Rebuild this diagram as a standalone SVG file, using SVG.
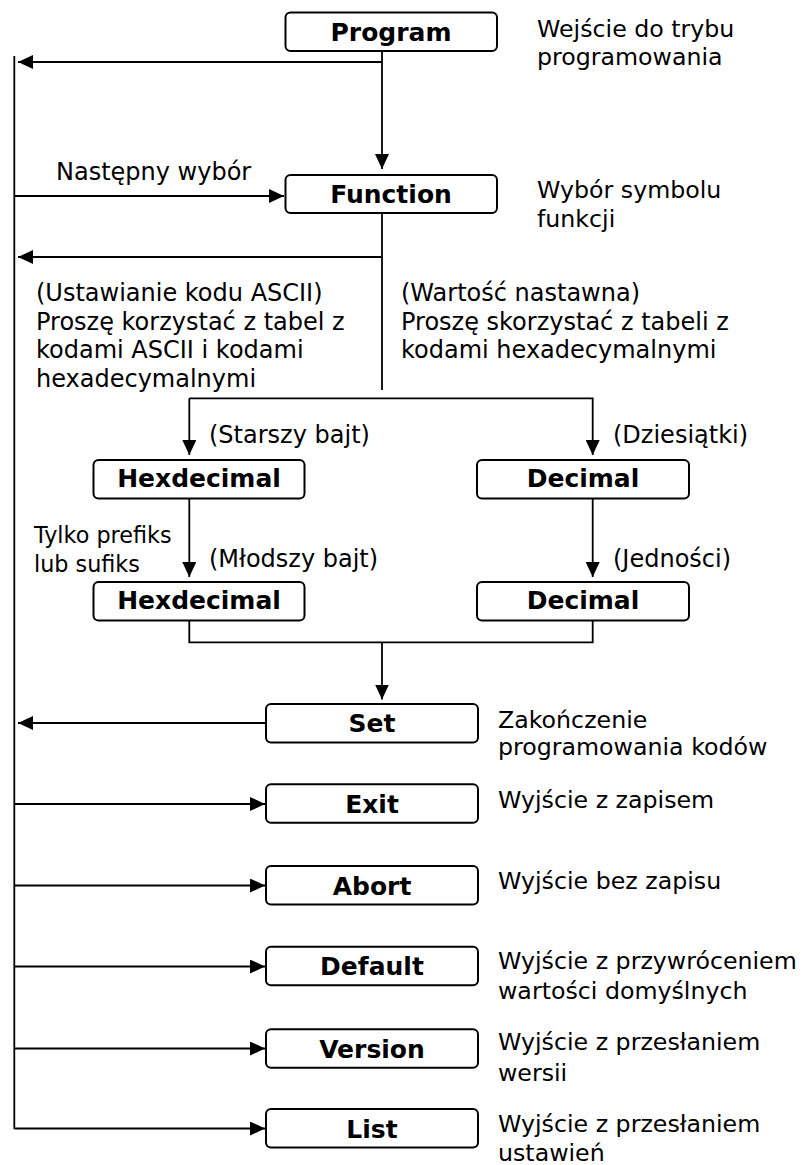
<svg xmlns="http://www.w3.org/2000/svg" width="804" height="1165" viewBox="0 0 804 1165">
<style>
.box{fill:#fff;stroke:#000;stroke-width:2}
.lbl{font-family:"DejaVu Sans",Verdana,sans-serif;font-weight:bold;font-size:25px;text-anchor:middle;fill:#000}
.t{font-family:"DejaVu Sans",Verdana,sans-serif;font-size:24px;fill:#000}
.r{font-family:"DejaVu Sans",Verdana,sans-serif;font-size:23.7px;fill:#000}
.s{font-family:"DejaVu Sans",Verdana,sans-serif;font-size:22.3px;fill:#000}
.c{fill:none;stroke:#000;stroke-width:1.8}
.a{marker-end:url(#ah)}
</style>
<defs>
<marker id="ah" viewBox="0 0 15 14" refX="15" refY="7" markerWidth="15" markerHeight="14" orient="auto" markerUnits="userSpaceOnUse">
<path d="M0,0 L15,7 L0,14 z" fill="#000"/>
</marker>
</defs>
<rect width="804" height="1165" fill="#fff"/>
<g id="connectors">
<path class="c" d="M14.3,56 V1129"/>
<path class="c a" d="M382,51 V169"/>
<path class="c a" d="M382,62 H18"/>
<path class="c a" d="M14.3,196 H284"/>
<path class="c" d="M382,213 V390"/>
<path class="c a" d="M382,257 H18"/>
<path class="c a" d="M189.3,398.3 V455"/>
<path class="c a" d="M189.3,398.3 H592.7 V455"/>
<path class="c a" d="M189.3,499 V577"/>
<path class="c a" d="M592.7,499 V577"/>
<path class="c" d="M189.3,621 V642.3 H592.7 V621"/>
<path class="c a" d="M382,642.3 V699.5"/>
<path class="c a" d="M266,723 H18"/>
<path class="c a" d="M14.3,804 H265"/>
<path class="c a" d="M14.3,885.5 H265"/>
<path class="c a" d="M14.3,966.5 H265"/>
<path class="c a" d="M14.3,1048.5 H265"/>
<path class="c a" d="M14.3,1128.5 H265"/>
</g>
<g id="program">
<rect class="box" x="285.5" y="12.5" width="211.5" height="38.5" rx="5"/>
<text class="lbl" x="391" y="41">Program</text>
<text class="r" x="537" y="37">Wejście do trybu</text>
<text class="r" x="537" y="65">programowania</text>
</g>
<g id="function">
<rect class="box" x="285.5" y="175" width="211.5" height="38" rx="5"/>
<text class="lbl" x="391" y="203">Function</text>
<text class="t" x="56" y="180">Następny wybór</text>
<text class="r" x="537" y="198">Wybór symbolu</text>
<text class="r" x="537" y="227">funkcji</text>
</g>
<g id="notes">
<text class="t" x="36" y="301">(Ustawianie kodu ASCII)</text>
<text class="t" x="36" y="329.5">Proszę korzystać z tabel z</text>
<text class="t" x="36" y="358">kodami ASCII i kodami</text>
<text class="t" x="36" y="386.5">hexadecymalnymi</text>
<text class="t" x="401" y="301">(Wartość nastawna)</text>
<text class="t" x="401" y="329.5">Proszę skorzystać z tabeli z</text>
<text class="t" x="401" y="358">kodami hexadecymalnymi</text>
</g>
<g id="hex1">
<rect class="box" x="93.5" y="460" width="211" height="38.5" rx="5"/>
<text class="lbl" x="199" y="487">Hexdecimal</text>
<text class="t" x="209" y="443">(Starszy bajt)</text>
</g>
<g id="dec1">
<rect class="box" x="477" y="460" width="212" height="38.5" rx="5"/>
<text class="lbl" x="583" y="487">Decimal</text>
<text class="t" x="613" y="443">(Dziesiątki)</text>
</g>
<g id="hex2">
<rect class="box" x="93.5" y="582" width="211" height="38.5" rx="5"/>
<text class="lbl" x="199" y="609">Hexdecimal</text>
<text class="t" x="209" y="567">(Młodszy bajt)</text>
<text class="s" x="34" y="543">Tylko prefiks</text>
<text class="s" x="34" y="572">lub sufiks</text>
</g>
<g id="dec2">
<rect class="box" x="477" y="582" width="212" height="38.5" rx="5"/>
<text class="lbl" x="583" y="609">Decimal</text>
<text class="t" x="613" y="567">(Jedności)</text>
</g>
<g id="set">
<rect class="box" x="266" y="704" width="212" height="38.5" rx="5"/>
<text class="lbl" x="372" y="732">Set</text>
<text class="r" x="498" y="728">Zakończenie</text>
<text class="r" x="498" y="755">programowania kodów</text>
</g>
<g id="exit">
<rect class="box" x="266" y="784.3" width="212" height="38.5" rx="5"/>
<text class="lbl" x="372" y="813">Exit</text>
<text class="r" x="498" y="808">Wyjście z zapisem</text>
</g>
<g id="abort">
<rect class="box" x="266" y="866" width="212" height="38.5" rx="5"/>
<text class="lbl" x="372" y="894.5">Abort</text>
<text class="r" x="498" y="889">Wyjście bez zapisu</text>
</g>
<g id="default">
<rect class="box" x="266" y="946.7" width="212" height="38.5" rx="5"/>
<text class="lbl" x="372" y="975">Default</text>
<text class="r" x="498" y="968.5">Wyjście z przywróceniem</text>
<text class="r" x="498" y="999">wartości domyślnych</text>
</g>
<g id="version">
<rect class="box" x="266" y="1029.3" width="212" height="38.5" rx="5"/>
<text class="lbl" x="372" y="1058">Version</text>
<text class="r" x="498" y="1050">Wyjście z przesłaniem</text>
<text class="r" x="498" y="1080.5">wersii</text>
</g>
<g id="list">
<rect class="box" x="266" y="1109" width="212" height="38.5" rx="5"/>
<text class="lbl" x="372" y="1137.5">List</text>
<text class="r" x="498" y="1131.5">Wyjście z przesłaniem</text>
<text class="r" x="498" y="1161">ustawień</text>
</g>
</svg>
